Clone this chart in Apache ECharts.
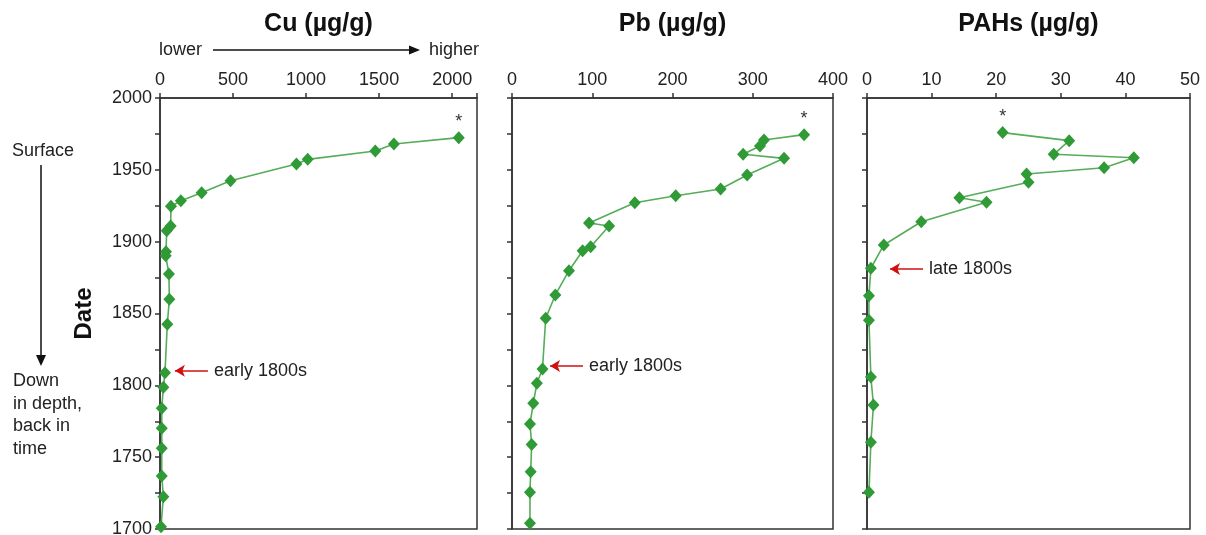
<!DOCTYPE html>
<html>
<head>
<meta charset="utf-8">
<script src="https://cdn.jsdelivr.net/npm/echarts@6/dist/echarts.min.js"></script>
<style>
html,body{margin:0;padding:0;background:#fff;}
#c{width:1206px;height:535px;}
</style>
</head>
<body>
<div id="c"></div>
<script>
// ---- Data (value, year) ----
var cuYears = [1972.4,1968,1963.1,1957.3,1954,1942.4,1934.1,1928.5,1924.6,1910.9,1907.6,1893,1890.2,1877.5,1859.9,1842.5,1808.8,1798.6,1784,1770.1,1756.2,1736.9,1722.5,1701.6];
var cuValues = [2045,1601,1474,1011,934,483,285,143,75,73,46,41,39,61,64,50,34,23,12,12,12,12,23,7];

var pbYears = [1974.5,1970.8,1966.6,1960.8,1958,1946.4,1936.7,1932,1927.1,1913,1910.9,1896.5,1893.7,1879.8,1862.9,1846.7,1811.4,1801.4,1787.5,1773.1,1758.9,1739.9,1725.6,1704];
var pbValues = [364,314,309,288,339,293,260,204,153,96,121,98,88,71,54,42,38,31,26.5,22.4,24.5,23.3,22.4,22.4];

var pahYears = [1975.9,1970.3,1960.8,1958.4,1951.5,1947.1,1941.3,1930.6,1927.4,1913.9,1897.7,1881.5,1862.4,1845.3,1805.8,1786.3,1760.4,1725.6];
var pahValues = [21.0,31.3,28.9,41.3,36.7,24.7,25.0,14.3,18.5,8.4,2.6,0.6,0.3,0.3,0.6,1.0,0.6,0.3];

var titles = ['Cu (\u00b5g/g)', 'Pb (\u00b5g/g)', 'PAHs (\u00b5g/g)'];
var xMax = [2170, 400, 50];
var xInterval = [500, 100, 10];
var yMin = 1700, yMax = 2000, yInterval = 25, yLabelStep = 50;

// annotations: [label, startValue, endValue, year]
var notes = [
  ['early 1800s', 328, 102, 1810.2],
  ['early 1800s', 88.5, 47.4, 1813.5],
  ['late 1800s', 8.67, 3.56, 1881]
];

var FONT = 'Liberation Sans, Arial, sans-serif';
var TXT = '#222';
var GREEN = '#2f9a36';
var LINE_GREEN = '#55ad58';

function pairs(vals, yrs){ return vals.map(function(v,i){ return [v, yrs[i]]; }); }
var datasets = [pairs(cuValues, cuYears), pairs(pbValues, pbYears), pairs(pahValues, pahYears)];

var grids = [
  {left:160, top:98, width:317, height:431},
  {left:512, top:98, width:321, height:431},
  {left:867, top:98, width:323, height:431}
];

var option = {
  animation:false,
  backgroundColor:'#fff',
  grid: grids.map(function(g){ return Object.assign({show:true, borderColor:'#333', borderWidth:1.5, backgroundColor:'transparent', containLabel:false, outerBoundsMode:'none'}, g); }),
  xAxis: grids.map(function(g,i){
    return {
      type:'value', gridIndex:i, position:'top', min:0, max:xMax[i], interval:xInterval[i],
      name: titles[i], nameLocation:'middle', nameGap:61,
      nameTextStyle:{fontFamily:FONT, fontSize:25, fontWeight:'bold', color:'#111'},
      axisLine:{show:true, onZero:false, lineStyle:{color:'#333', width:1.5}},
      axisTick:{show:true, inside:false, length:5, lineStyle:{color:'#333', width:1.5}},
      axisLabel:{show:true, margin:9, fontFamily:FONT, fontSize:18, color:TXT,
        formatter:function(v){ return (Math.abs(v % xInterval[i]) < 1e-9) ? String(v) : ''; }},
      splitLine:{show:false}
    };
  }),
  yAxis: grids.map(function(g,i){
    return {
      type:'value', gridIndex:i, min:yMin, max:yMax, interval:yInterval,
      name: i===0 ? 'Date' : '', nameLocation:'middle', nameGap:64, nameRotate:90,
      nameTextStyle:{fontFamily:FONT, fontSize:24, fontWeight:'bold', color:'#111'},
      axisLine:{show:true, onZero:false, lineStyle:{color:'#333', width:1.5}},
      axisTick:{show:true, inside:false, length:5, lineStyle:{color:'#333', width:1.5}},
      axisLabel:{show:i===0, margin:8, fontFamily:FONT, fontSize:18, color:TXT,
        formatter:function(v){ return (v % yLabelStep === 0) ? String(v) : ''; }},
      splitLine:{show:false}
    };
  }),
  series: datasets.map(function(d,i){
    var data = d.map(function(p,k){
      if(k===0){
        return {value:p, label:{show:true, formatter:'*', position:'top', distance:0,
          fontFamily:FONT, fontSize:18, color:'#333'}};
      }
      return {value:p};
    });
    var n = notes[i];
    return {
      type:'line', xAxisIndex:i, yAxisIndex:i, data:data,
      symbol:'diamond', symbolSize:[12,13], showAllSymbol:true,
      itemStyle:{color:GREEN},
      lineStyle:{color:LINE_GREEN, width:1.6},
      label:{show:false},
      emphasis:{disabled:true},
      markLine:{
        silent:true, animation:false,
        symbol:['none','arrow'], symbolSize:[9,10],
        lineStyle:{color:'#d01010', width:1.6, type:'solid'},
        label:{show:true, position:'start', distance:6, formatter:n[0],
          fontFamily:FONT, fontSize:18, color:TXT},
        data:[[{coord:[n[1], n[3]]},{coord:[n[2], n[3]]}]]
      }
    };
  }),
  graphic:[
    {type:'text', left:12, top:142, style:{text:'Surface', font:'18px '+FONT, fill:TXT}},
    {type:'line', shape:{x1:41, y1:165, x2:41, y2:358}, style:{stroke:'#111', lineWidth:1.5}},
    {type:'polygon', shape:{points:[[36,355],[46,355],[41,366]]}, style:{fill:'#111'}},
    {type:'text', left:13, top:370, style:{text:'Down\nin depth,\nback in\ntime', font:'18px '+FONT, fill:TXT, lineHeight:22.5}},
    {type:'text', left:159, top:41, style:{text:'lower', font:'18px '+FONT, fill:TXT}},
    {type:'line', shape:{x1:213, y1:50, x2:411, y2:50}, style:{stroke:'#111', lineWidth:1.5}},
    {type:'polygon', shape:{points:[[409,45.5],[409,54.5],[420,50]]}, style:{fill:'#111'}},
    {type:'text', left:429, top:41, style:{text:'higher', font:'18px '+FONT, fill:TXT}}
  ]
};

var chart = echarts.init(document.getElementById('c'), null, {renderer:'canvas'});
chart.setOption(option);
</script>
</body>
</html>
